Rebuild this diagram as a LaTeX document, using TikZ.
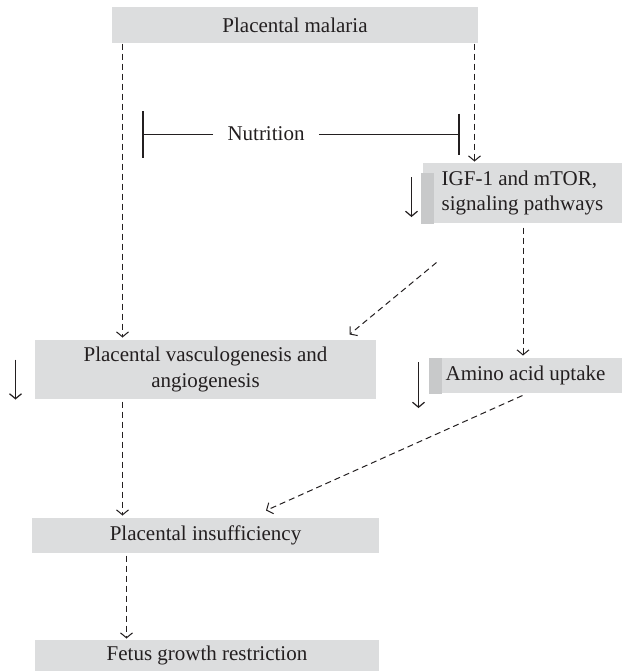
\documentclass[tikz,border=0pt]{standalone}
\usepackage{fontspec}
\setmainfont{Liberation Serif}
\usetikzlibrary{arrows.meta, calc, positioning}
\definecolor{boxgray}{HTML}{DCDDDE}
\definecolor{stripgray}{HTML}{C8C9CA}
\definecolor{inkgray}{HTML}{231F20}

\begin{document}
\begin{tikzpicture}[x=0.5pt, y=-0.5pt, line width=0.5pt, color=inkgray,
        font=\fontsize{10.5}{12.6}\selectfont,
        stage/.style={fill=boxgray, inner sep=0pt, align=center},
        dasharrow/.style={dash pattern=on 3pt off 2pt, -{Straight Barb[length=2.5pt, width=6pt]}},
        lowarrow/.style={line width=0.6pt, -{Straight Barb[length=2.5pt, width=6pt]}}]
        \useasboundingbox (0,0) rectangle (626,671);

        % Placental malaria
        \node[stage, minimum width=183pt, minimum height=18pt] (malaria) at (295,25) {Placental malaria};

        % Nutrition
        \node[inner xsep=7pt] (nutrition) at (266,134) {Nutrition};
        \coordinate (nutL) at (142,134);
        \coordinate (nutR) at (460,134);
        \draw[-{Bar[width=23.5pt, line width=1.2pt]}] (nutrition.west) -- (nutL);
        \draw[-{Bar[width=20.5pt, line width=1.2pt]}] (nutrition.east) -- (nutR);

        % IGF-1 and mTOR
        \node[stage, align=left, minimum width=99.5pt, minimum height=30pt] (igf) at (522.5,193) {IGF-1 and mTOR,\\signaling pathways};
        \fill[stripgray] ($(igf.south west)+(-2,0)$) rectangle ($(igf.north west)+(11,10)$);
        \draw[lowarrow] ($(igf.west)+(-11,-16)$) -- ++(0,40);

        % Amino acid uptake
        \node[stage, minimum width=96.5pt, minimum height=17.5pt] (amino) at (525.5,375.5) {Amino acid uptake};
        \fill[stripgray] (amino.south west) rectangle ($(amino.north west)+(13,0)$);
        \draw[lowarrow] ($(amino.west)+(-10,-13.5)$) -- ++(0,46);

        % Placental vasculogenesis
        \node[stage, minimum width=170.5pt, minimum height=29.5pt] (vasc) at (205.5,369.5) {Placental vasculogenesis and\\angiogenesis};
        \draw[lowarrow] ($(vasc.west)+(-19,-10)$) -- ++(0,40);

        % Placental insufficiency
        \node[stage, minimum width=173.5pt, minimum height=17.5pt] (insuff) at (205.5,535.5) {Placental insufficiency};

        % Fetus growth restriction
        \node[stage, minimum width=172pt, minimum height=15.5pt] (fetus) at (207,655.5) {Fetus growth restriction};

        % Dashed links
        \draw[dasharrow] ($(malaria.south west)+(11,0)$) coordinate (m1) -- ($(m1 |- vasc.north)+(0,-2)$);
        \draw[dasharrow] ($(malaria.south east)+(-4,0)$) coordinate (m2) -- ($(m2 |- igf.north)+(0,-1)$);
        \draw[dasharrow] ($(igf.south)+(0.5,4)$) coordinate (i1) -- ($(i1 |- amino.north)+(0,-2)$);
        \draw[dasharrow] ($(igf.south west)+(14,39)$) -- ($(vasc.north east)+(-27,-5)$);
        \draw[dasharrow] ($(amino.south)+(-3,2)$) -- ($(insuff.north)+(60.5,-7)$);
        \draw[dasharrow] ($(vasc.south west)+(88,2)$) coordinate (v1) -- ($(v1 |- insuff.north)+(0,-2)$);
        \draw[dasharrow] ($(insuff.south west)+(95,2)$) coordinate (f1) -- ($(f1 |- fetus.north)+(0,-1)$);

    \end{tikzpicture}
\end{document}
